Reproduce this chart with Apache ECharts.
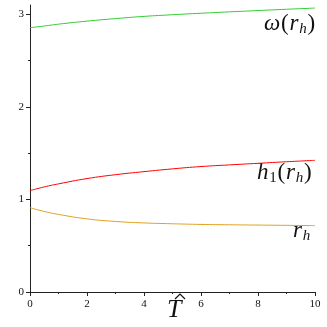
<!doctype html>
<html>
<head>
<meta charset="utf-8">
<title>omega h1 rh</title>
<style>html,body{margin:0;padding:0;background:#fff}#main{width:327px;height:327px}</style>
</head>
<body>
<div id="main"></div>
<script src="https://cdn.jsdelivr.net/npm/echarts@6/dist/echarts.min.js"></script>
<script>
var myChart = echarts.init(document.getElementById('main'));

var T = [0, 0.5, 1, 2, 3, 4, 5, 6, 7, 8, 9, 10];
var omega = [2.855, 2.873, 2.893, 2.926, 2.953, 2.977, 2.995, 3.011, 3.026, 3.040, 3.054, 3.067];
var h1 = [1.095, 1.135, 1.168, 1.225, 1.267, 1.300, 1.330, 1.355, 1.373, 1.390, 1.407, 1.422];
var rh = [0.911, 0.870, 0.838, 0.790, 0.762, 0.746, 0.737, 0.730, 0.726, 0.723, 0.720, 0.717];
var yTicks = [0, 1, 2, 3];
var yMinor = [0.5, 1.5, 2.5];

function pairs(ys) { return T.map(function (t, i) { return [t, ys[i]]; }); }

var serif = '"Liberation Serif", "DejaVu Serif", serif';
var axisCol = '#222';
var ctx = document.createElement('canvas').getContext('2d');

// label made of pieces: [text, size, dy, italic]; laid out left to right
function lbl(x, y, parts) {
  var cx = 0, kids = [];
  parts.forEach(function (p) {
    var font = (p[3] ? 'italic ' : '') + p[1] + 'px ' + serif;
    ctx.font = font;
    kids.push({ type: 'text', x: cx, y: p[2], style: { text: p[0], font: font, fill: '#111' } });
    cx += ctx.measureText(p[0]).width + 0.8;
  });
  return { type: 'group', left: x, top: y, children: kids };
}

var option = {
  animation: false,
  grid: { left: 30, right: 12, top: 5, bottom: 35, containLabel: false },
  xAxis: [{
    type: 'value', min: 0, max: 10, interval: 2,
    axisLine: { lineStyle: { color: axisCol, width: 1 } },
    axisTick: { length: 4, lineStyle: { color: axisCol } },
    minorTick: { show: true, splitNumber: 2, length: 2, lineStyle: { color: axisCol } },
    splitLine: { show: false },
    axisLabel: { margin: 7, fontFamily: serif, fontSize: 11, color: '#111' }
  }],
  yAxis: [{
    type: 'value', min: 0, max: 3.1,
    axisLine: { show: true, lineStyle: { color: axisCol, width: 1 } },
    axisTick: { show: true, length: 4, customValues: yTicks, lineStyle: { color: axisCol } },
    splitLine: { show: false },
    axisLabel: { margin: 6, fontFamily: serif, fontSize: 11, color: '#111', customValues: yTicks }
  }, {
    type: 'value', min: 0, max: 3.1, position: 'left',
    axisLine: { show: false },
    axisTick: { show: true, length: 2, customValues: yMinor, lineStyle: { color: axisCol } },
    splitLine: { show: false },
    axisLabel: { show: false, customValues: yMinor }
  }],
  series: [
    { type: 'line', data: pairs(omega), smooth: true, symbol: 'none', lineStyle: { color: '#33cc33', width: 1 } },
    { type: 'line', data: pairs(h1), smooth: true, symbol: 'none', lineStyle: { color: '#ff0000', width: 1 } },
    { type: 'line', data: pairs(rh), smooth: true, symbol: 'none', lineStyle: { color: '#e0a020', width: 1 } }
  ],
  graphic: [
    lbl(264, 12, [['ω', 23, 0, 1], ['(', 23, 0, 0], ['r', 23, 0, 1], ['h', 15, 10, 1], [')', 23, 0, 0]]),
    lbl(257, 161, [['h', 23, 0, 1], ['1', 15, 10, 0], ['(', 23, 0, 0], ['r', 23, 0, 1], ['h', 15, 10, 1], [')', 23, 0, 0]]),
    lbl(293, 219, [['r', 23, 0, 1], ['h', 15, 10, 1]]),
    { type: 'text', left: 167, top: 297,
      style: { text: 'T', font: 'italic 26px ' + serif, fill: '#111' } },
    { type: 'polyline', shape: { points: [[175, 299], [180, 294], [185, 299]] },
      style: { stroke: '#111', lineWidth: 1.2, fill: null } }
  ]
};

myChart.setOption(option);
</script>
</body>
</html>
